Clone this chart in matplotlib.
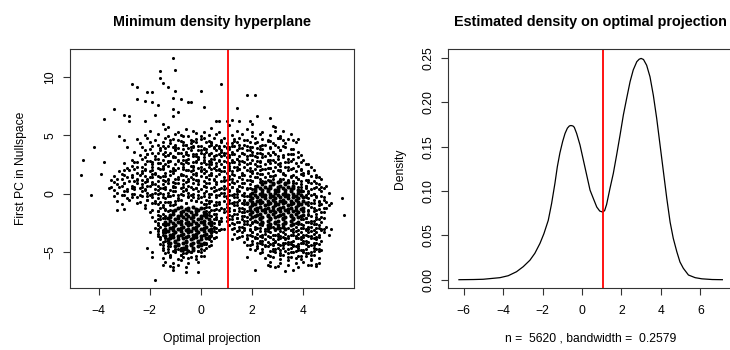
import matplotlib
matplotlib.use("Agg")
import numpy as np
import matplotlib.pyplot as plt

plt.rcParams['font.family'] = ['Liberation Sans', 'DejaVu Sans']

# ---- scatter: points, in tenths of a unit (x, y) ----
outlier_pts = [
    (-11, 116), (-10, 106), (-16, 105), (-16, 99), (-15, 95), (-27, 94), (-25, 91), (-13, 91),
    (-10, 88), (0, 88), (8, 94), (-21, 87), (-19, 87), (-25, 81), (-22, 79), (-19, 78), (-17, 76),
    (-11, 82), (-8, 81), (-5, 78), (-4, 78), (18, 84), (21, 84), (1, 74), (14, 73), (-34, 72),
    (-11, 72), (-9, 70), (-11, 66), (-38, 64), (-30, 67), (-28, 66), (-28, 62), (-22, 62), (-18, 67),
    (-15, 60), (-13, 57), (22, 66), (27, 65), (28, 58), (29, 57), (19, 62), (20, 60), (10, 62),
    (11, 59), (12, 63), (15, 62), (6, 62), (7, 62), (20, 53), (30, 48), (31, 48), (36, 46), (38, 47),
    (32, 54), (-42, 40), (-32, 49), (-30, 46), (-29, 40), (-46, 29), (-47, 16), (-43, -1), (-38, 27),
    (-39, 17), (-33, -14), (56, -18), (55, -4), (51, -8), (51, -30), (50, -35), (47, -20),
    (-18, -74), (-6, -67), (-11, -65), (-11, -63), (-15, -61), (-1, -67), (21, -65), (33, -66),
    (26, -61), (27, -62), (29, -63), (36, -65), (18, -54), (19, -47), (18, -44), (12, -39),
    (14, -38), (-19, -50), (-19, -54), (-21, -46), (-20, -33), (43, -61), (45, -60),
]

upper_cloud_pts = [
    (-20, 54), (-14, 55), (-9, 53), (-6, 55), (-3, 54), (1, 53), (4, 56), (7, 53),
    (-22, 50), (-17, 51), (-13, 49), (-10, 51), (-8, 50), (-5, 49), (-2, 52), (0, 49), (3, 50), (6, 51), (9, 48),
    (-25, 47), (-21, 48), (-18, 46), (-14, 48), (-11, 47), (-9, 46), (-7, 49), (-4, 46), (-2, 47), (1, 48),
    (3, 45), (5, 48), (8, 46),
    (-24, 43), (-20, 44), (-17, 42), (-15, 44), (-12, 43), (-10, 42), (-8, 45), (-6, 42), (-4, 43), (-2, 44),
    (0, 41), (2, 44), (4, 43), (6, 42), (8, 44), (10, 43),
    (-23, 40), (-19, 41), (-16, 39), (-13, 41), (-11, 40), (-9, 39), (-7, 42), (-5, 39), (-3, 40), (-1, 41),
    (1, 38), (3, 41), (5, 40), (7, 39), (9, 41),
    (-26, 36), (-22, 37), (-19, 35), (-16, 37), (-14, 36), (-12, 35), (-10, 38), (-8, 35), (-6, 36), (-4, 37),
    (-2, 34), (0, 37), (2, 36), (4, 35), (6, 37), (8, 36), (10, 35),
    (-24, 33), (-21, 34), (-18, 32), (-15, 34), (-13, 33), (-11, 32), (-9, 35), (-7, 32), (-5, 33), (-3, 34),
    (-1, 31), (1, 34), (3, 33), (5, 32), (7, 34), (9, 33),
    (-27, 29), (-23, 30), (-20, 28), (-17, 30), (-15, 29), (-13, 28), (-11, 31), (-9, 28), (-7, 29), (-5, 30),
    (-3, 27), (-1, 30), (1, 29), (3, 28), (5, 30), (7, 29), (9, 28),
    (-30, 26), (-26, 27), (-22, 25), (-19, 27), (-16, 26), (-14, 25), (-12, 28), (-10, 25), (-8, 26), (-6, 27),
    (-4, 24), (-2, 27), (0, 26), (2, 25), (4, 27), (6, 26), (8, 25), (10, 27),
    (-29, 22), (-25, 23), (-22, 21), (-19, 23), (-17, 22), (-15, 21), (-13, 24), (-11, 21), (-9, 22), (-7, 23),
    (-5, 20), (-3, 23), (-1, 22), (1, 21), (3, 23), (5, 22), (7, 21), (9, 23),
    (-32, 19), (-28, 20), (-25, 18), (-22, 20), (-20, 19), (-18, 18), (-16, 21), (-14, 18), (-12, 19), (-10, 20),
    (-8, 17), (-6, 20), (-4, 19), (-2, 18), (0, 20), (2, 19), (4, 18), (6, 20), (8, 19),
    (-34, 15), (-30, 16), (-27, 14), (-24, 16), (-22, 15), (-20, 14), (-18, 17), (-16, 14), (-14, 15), (-12, 16),
    (-10, 13), (-8, 16), (-6, 15), (-4, 14), (-2, 16), (0, 15), (2, 14), (4, 16), (6, 15), (9, 14),
    (-35, 12), (-31, 13), (-28, 11), (-25, 13), (-23, 12), (-21, 11), (-19, 14), (-17, 11), (-15, 12), (-13, 13),
    (-11, 10), (-9, 13), (-7, 12), (-5, 11), (-3, 13), (-1, 12), (1, 11), (3, 13), (5, 12), (8, 11),
    (-33, 8), (-30, 9), (-27, 7), (-25, 9), (-23, 8), (-21, 7), (-19, 10), (-17, 7), (-15, 8), (-13, 9),
    (-11, 6), (-9, 9), (-7, 8), (-5, 7), (-3, 9), (-1, 8), (1, 7), (3, 9), (6, 8), (9, 7),
    (-36, 5), (-32, 6), (-29, 4), (-26, 6), (-24, 5), (-22, 4), (-20, 7), (-18, 4), (-16, 5), (-14, 6),
    (-12, 3), (-10, 6), (-8, 5), (-6, 4), (-4, 6), (-2, 5), (0, 4), (2, 6), (4, 5), (7, 4),
    (-33, 1), (-29, 2), (-26, 0), (-23, 2), (-21, 1), (-19, 0), (-17, 3), (-15, 0), (-13, 1), (-11, 2),
    (-9, -1), (-7, 2), (-5, 1), (-3, 0), (-1, 2), (1, 1), (3, 0), (5, 2), (8, 1),
    (-34, -2), (-30, -1), (-27, -3), (-24, -1), (-21, -2), (-19, -3), (-17, 0), (-15, -3), (-13, -2), (-11, -1),
    (-9, -4), (-7, -1), (-5, -2), (-3, -3), (-1, -1), (1, -2), (3, -3), (6, -1), (9, -2),
    (-33, -6), (-28, -5), (-24, -7), (-21, -5), (-18, -6), (-16, -7), (-14, -4), (-12, -7), (-10, -6), (-8, -5),
    (-6, -8), (-4, -5), (-2, -6), (0, -7), (2, -5), (4, -6), (7, -7),
]

# second, offset layer where the cloud is thicker
mid_cloud_pts = [
    (-12, 46), (-7, 44), (-3, 45), (0, 47), (4, 44), (8, 45),
    (-15, 41), (-10, 40), (-6, 42), (-3, 41), (1, 39), (4, 42), (7, 41), (10, 40),
    (-20, 38), (-14, 39), (-10, 37), (-7, 38), (-4, 40), (-1, 37), (2, 38), (5, 39), (8, 37), (10, 39),
    (-21, 34), (-17, 35), (-13, 33), (-9, 35), (-6, 34), (-3, 32), (0, 35), (3, 34), (6, 33), (9, 35),
    (-22, 31), (-18, 30), (-14, 32), (-10, 31), (-6, 29), (-2, 32), (1, 31), (4, 30), (8, 32), (10, 31),
    (-25, 27), (-21, 28), (-17, 26), (-13, 27), (-9, 29), (-5, 26), (-2, 28), (1, 27), (4, 25), (7, 28), (10, 27),
    (-27, 24), (-23, 23), (-19, 25), (-15, 24), (-11, 22), (-7, 25), (-3, 24), (0, 23), (3, 25), (6, 24), (9, 23),
    (-30, 20), (-26, 21), (-23, 19), (-19, 20), (-15, 22), (-11, 19), (-7, 21), (-3, 20), (1, 18), (4, 21),
    (7, 20), (9, 19),
    (-31, 17), (-27, 16), (-23, 18), (-19, 17), (-15, 15), (-11, 18), (-7, 16), (-3, 17), (0, 19), (3, 16),
    (7, 17), (10, 18),
    (-33, 13), (-29, 14), (-25, 12), (-21, 13), (-17, 15), (-13, 12), (-9, 14), (-5, 13), (-1, 11), (2, 14),
    (5, 13), (9, 12),
    (-34, 10), (-30, 9), (-26, 11), (-22, 10), (-18, 8), (-14, 11), (-10, 9), (-6, 10), (-2, 12), (2, 9),
    (6, 10), (9, 11),
    (-35, 6), (-31, 7), (-27, 5), (-23, 6), (-19, 8), (-15, 5), (-11, 7), (-7, 6), (-3, 4), (1, 7), (5, 6), (8, 5),
    (-34, 3), (-30, 2), (-26, 4), (-22, 3), (-18, 1), (-14, 4), (-10, 2), (-6, 3), (-2, 5), (2, 2), (6, 3), (9, 4),
    (-31, -1), (-27, 0), (-23, -2), (-20, -1), (-16, 1), (-12, -2), (-8, 0), (-4, -1), (0, -3), (4, 0), (7, -1),
    (-29, -4), (-25, -3), (-21, -5), (-17, -4), (-13, -2), (-9, -5), (-5, -3), (-1, -4), (3, -6), (6, -3),
    (-18, -8), (-14, -7), (-10, -9), (-6, -8), (-2, -6), (2, -9), (6, -7),
]

left_halo_pts = [
    (-31, -9), (-25, -8), (-22, -10), (-19, -8), (-17, -9), (-15, -10), (-13, -7), (-11, -10), (1, -9), (3, -8),
    (5, -10), (7, -9),
    (-30, -13), (-22, -12), (-19, -14), (-16, -12), (-14, -13), (-12, -14), (2, -11), (4, -14), (6, -13), (8, -12),
    (-20, -16), (-17, -15), (-15, -17), (-13, -15), (3, -16), (5, -17), (7, -14),
    (-19, -20), (-16, -19), (-14, -21), (4, -19), (6, -20), (8, -21),
    (-18, -23), (-16, -22), (4, -24), (6, -22), (8, -23),
    (-17, -27), (-15, -26), (5, -28), (7, -26),
    (-17, -30), (-15, -31), (5, -29), (7, -31), (9, -30),
    (-17, -34), (-15, -33), (4, -35), (6, -33),
    (-16, -37), (-14, -38), (3, -36), (5, -38),
    (-15, -41), (-13, -40), (2, -42), (4, -40),
    (-15, -44), (-13, -45), (1, -43), (3, -45),
    (-15, -48), (-13, -47), (-11, -49), (-9, -47), (-7, -48), (-5, -49), (-3, -46), (-1, -49), (1, -48),
    (-14, -51), (-12, -52), (-10, -50), (-8, -52), (-6, -51), (-4, -50), (-2, -53), (0, -50),
    (-15, -55), (-12, -54), (-9, -56), (-7, -54), (-5, -55), (-2, -56), (1, -53),
    (-14, -58), (-11, -59), (-8, -57), (-5, -59), (-1, -58),
    (-12, -62), (-9, -61), (-6, -63),
]

mid_left_pts = [
    (-15, -11), (-12, -10), (1, -12), (3, -11), (6, -10),
    (-17, -15), (-14, -14), (2, -15), (5, -14),
    (-17, -18), (-14, -19), (3, -18), (6, -17),
    (-17, -22), (-15, -21), (5, -22), (7, -23),
    (-17, -25), (-15, -26), (5, -25), (7, -24),
    (-18, -29), (-16, -28), (6, -29), (8, -30),
    (-17, -32), (-15, -33), (5, -32), (7, -31),
    (-17, -36), (-15, -35), (4, -36), (6, -37),
    (-16, -39), (-14, -40), (3, -39), (5, -38),
    (-16, -43), (-13, -42), (2, -43), (4, -44),
    (-15, -46), (-12, -45), (-10, -47), (-8, -46), (0, -47), (2, -46),
    (-13, -50), (-10, -49), (-7, -51), (-4, -50), (-1, -49),
    (-12, -53), (-8, -52), (-4, -54), (0, -53),
]

right_halo_pts = [
    (14, 54), (18, 55), (24, 53), (29, 54),
    (12, 50), (16, 51), (20, 49), (23, 51), (27, 50), (31, 49), (35, 51),
    (13, 47), (15, 48), (18, 46), (21, 48), (24, 47), (26, 46), (30, 48), (34, 47),
    (12, 43), (14, 44), (17, 42), (19, 44), (21, 43), (24, 42), (26, 45), (29, 42), (33, 43), (37, 44),
    (11, 40), (13, 41), (16, 39), (18, 41), (20, 40), (22, 39), (25, 42), (27, 39), (30, 40), (32, 41), (36, 38),
    (12, 36), (14, 37), (16, 35), (18, 37), (20, 36), (22, 35), (24, 38), (26, 35), (28, 36), (31, 37), (34, 34),
    (38, 36),
    (11, 33), (13, 34), (15, 32), (17, 34), (19, 33), (21, 32), (23, 35), (25, 32), (27, 33), (29, 34), (32, 31),
    (35, 34), (39, 33),
    (12, 29), (14, 30), (16, 28), (18, 30), (20, 29), (22, 28), (24, 31), (26, 28), (28, 29), (30, 30), (33, 27),
    (36, 30), (40, 29),
    (11, 26), (13, 27), (15, 25), (17, 27), (19, 26), (21, 25), (23, 28), (25, 25), (27, 26), (29, 27), (31, 24),
    (34, 27), (37, 26), (41, 25),
    (11, 22), (13, 23), (15, 21), (17, 23), (19, 22), (21, 21), (23, 24), (25, 21), (27, 22), (29, 23), (31, 20),
    (33, 23), (36, 22), (39, 21), (43, 23),
    (12, 19), (14, 20), (16, 18), (18, 20), (20, 19), (22, 18), (24, 21), (26, 18), (28, 19), (30, 20), (32, 17),
    (34, 20), (37, 19), (40, 18), (44, 20),
    (11, 15), (13, 16), (15, 14), (17, 16), (19, 15), (21, 14), (23, 17), (25, 14), (27, 15), (29, 16), (31, 13),
    (33, 16), (35, 15), (37, 14), (40, 16), (43, 15), (46, 14),
    (10, 12), (12, 13), (14, 11), (16, 13), (18, 12), (20, 11), (22, 14), (24, 11), (26, 12), (28, 13), (30, 10),
    (32, 13), (34, 12), (36, 11), (38, 13), (41, 12), (44, 11), (47, 13),
    (11, 8), (13, 9), (15, 7), (17, 9), (19, 8), (21, 7), (37, 9), (39, 8), (41, 7), (43, 9), (46, 8), (49, 7),
    (10, 5), (12, 6), (14, 4), (16, 6), (18, 5), (20, 4), (39, 6), (41, 5), (43, 4), (45, 6), (48, 5),
    (9, 1), (11, 2), (13, 0), (15, 2), (17, 1), (19, 0), (40, 2), (42, 1), (44, 0), (47, 2), (50, 1),
    (10, -2), (12, -1), (14, -3), (16, -1), (18, -2), (41, -3), (43, -1), (45, -2), (48, -3),
    (9, -6), (11, -5), (13, -7), (15, -5), (17, -6), (42, -7), (44, -5), (46, -6), (49, -7),
    (10, -9), (12, -8), (14, -10), (16, -8), (18, -9), (42, -10), (44, -8), (47, -9), (50, -10),
    (9, -13), (11, -12), (13, -14), (15, -12), (17, -13), (42, -14), (44, -12), (46, -13), (49, -12),
    (9, -16), (11, -15), (13, -17), (15, -15), (17, -16), (42, -17), (44, -15), (47, -16),
    (10, -20), (12, -19), (14, -21), (16, -19), (18, -20), (41, -21), (43, -19), (45, -20), (48, -21),
    (10, -23), (12, -22), (14, -24), (16, -22), (18, -23), (20, -24), (40, -22), (42, -24), (44, -23), (46, -22),
    (11, -27), (13, -26), (15, -28), (17, -26), (19, -27), (21, -28), (38, -26), (40, -27), (42, -28), (44, -26),
    (46, -27), (49, -28),
    (12, -30), (15, -31), (17, -29), (19, -31), (21, -30), (23, -29), (25, -32), (34, -29), (36, -30), (38, -31),
    (40, -29), (42, -30), (44, -31), (46, -29), (48, -30),
    (13, -34), (16, -33), (18, -35), (20, -33), (22, -34), (24, -35), (26, -32), (28, -35), (30, -34), (32, -33),
    (34, -36), (36, -33), (38, -34), (40, -35), (42, -33), (44, -34), (46, -35), (48, -33),
    (15, -37), (18, -38), (20, -36), (22, -38), (24, -37), (26, -36), (28, -39), (30, -36), (32, -37), (34, -38),
    (36, -35), (38, -38), (40, -37), (42, -36), (44, -38), (46, -37),
    (17, -41), (20, -40), (22, -42), (24, -40), (26, -41), (28, -42), (30, -39), (32, -42), (34, -41), (36, -40),
    (38, -43), (40, -40), (42, -41), (44, -42), (47, -40),
    (19, -44), (22, -45), (24, -43), (26, -45), (28, -44), (30, -43), (32, -46), (34, -43), (36, -44), (38, -45),
    (40, -42), (42, -45), (44, -44), (46, -43),
    (21, -48), (24, -47), (27, -49), (29, -47), (31, -48), (33, -49), (35, -46), (37, -49), (39, -48), (41, -47),
    (43, -50), (45, -47), (47, -48),
    (23, -51), (26, -52), (29, -50), (32, -52), (34, -51), (36, -50), (38, -53), (40, -50), (42, -51), (44, -52),
    (46, -49),
    (25, -55), (28, -54), (31, -56), (34, -54), (37, -55), (39, -56), (41, -53), (43, -56), (46, -55),
    (27, -58), (31, -59), (34, -57), (37, -59), (40, -58), (43, -57), (46, -59),
    (30, -62), (34, -61), (38, -63), (42, -61), (45, -62),
]

mid_right_pts = [
    (13, 45), (17, 46), (22, 44), (27, 45), (32, 46),
    (12, 41), (15, 42), (19, 40), (23, 41), (28, 43), (33, 40),
    (11, 38), (15, 39), (19, 37), (23, 38), (27, 40), (31, 37), (35, 38),
    (12, 34), (16, 35), (20, 33), (24, 34), (28, 36), (32, 33), (36, 34),
    (11, 31), (14, 30), (18, 32), (22, 31), (26, 29), (30, 32), (34, 30), (38, 31),
    (12, 27), (15, 28), (19, 26), (23, 27), (27, 29), (31, 26), (35, 28), (39, 27),
    (11, 24), (14, 23), (18, 25), (22, 24), (26, 22), (30, 25), (34, 23), (38, 24), (42, 25),
    (11, 20), (15, 21), (19, 19), (23, 20), (27, 22), (31, 19), (35, 21), (39, 20), (42, 19),
    (12, 17), (16, 16), (20, 18), (24, 17), (28, 15), (32, 18), (36, 16), (39, 17), (42, 18), (45, 16),
    (11, 13), (15, 14), (19, 12), (23, 13), (27, 15), (31, 12), (35, 14), (38, 13), (42, 12), (45, 14),
    (12, 10), (16, 9), (20, 11), (23, 10), (36, 9), (39, 11), (42, 10), (45, 9),
    (12, 6), (15, 7), (19, 5), (38, 6), (41, 7), (44, 5), (47, 6),
    (11, 3), (14, 2), (18, 4), (39, 3), (42, 2), (46, 4),
    (11, -1), (14, 0), (17, -2), (41, -1), (44, 0), (47, -2),
    (10, -4), (13, -3), (17, -5), (42, -4), (45, -3), (48, -5),
    (11, -8), (14, -7), (17, -9), (43, -8), (46, -7),
    (10, -11), (13, -10), (16, -12), (43, -11), (46, -10), (48, -12),
    (10, -15), (13, -14), (16, -16), (18, -15), (42, -15), (45, -14), (48, -16),
    (11, -18), (14, -17), (17, -19), (42, -18), (45, -17),
    (11, -22), (14, -21), (17, -23), (19, -22), (39, -22), (41, -21), (43, -23), (45, -22),
    (12, -25), (15, -24), (18, -26), (20, -25), (22, -24), (37, -25), (39, -26), (41, -24), (43, -25), (45, -26),
    (47, -24),
    (13, -29), (16, -28), (19, -30), (22, -29), (24, -27), (26, -30), (28, -28), (31, -29), (35, -31), (37, -28),
    (39, -29), (41, -30), (43, -28), (45, -29), (47, -30),
    (14, -32), (17, -31), (20, -33), (23, -32), (25, -30), (27, -33), (29, -31), (31, -32), (33, -34), (35, -31),
    (37, -32), (39, -33), (41, -31), (43, -32), (45, -33), (47, -31),
    (16, -36), (19, -35), (21, -37), (23, -36), (25, -34), (27, -37), (29, -35), (31, -36), (33, -38), (35, -35),
    (37, -36), (39, -37), (41, -35), (43, -36), (45, -37),
    (18, -39), (21, -38), (23, -40), (25, -39), (27, -37), (29, -40), (31, -38), (33, -39), (35, -41), (37, -38),
    (39, -39), (41, -40), (43, -38), (45, -39),
    (20, -43), (23, -42), (25, -44), (27, -43), (29, -41), (31, -44), (33, -42), (35, -43), (37, -45), (39, -42),
    (41, -43), (43, -44), (45, -42),
    (22, -46), (25, -45), (28, -47), (30, -46), (32, -44), (34, -47), (36, -45), (38, -46), (40, -48), (42, -45),
    (44, -46), (46, -47),
    (24, -50), (28, -49), (31, -51), (35, -50), (38, -48), (41, -51), (44, -49),
    (27, -53), (31, -52), (35, -54), (39, -53), (43, -52),
]

right_core_pts = [
    (25, 10), (27, 11), (28, 9), (30, 10), (31, 11), (33, 9), (34, 10),
    (22, 7), (24, 8), (25, 6), (27, 7), (28, 8), (30, 6), (31, 7), (33, 8), (34, 6), (36, 7),
    (21, 4), (23, 5), (24, 3), (26, 4), (27, 5), (29, 3), (30, 4), (32, 5), (33, 3), (35, 4), (36, 5), (38, 3),
    (20, 1), (21, 2), (23, 0), (24, 1), (26, 2), (27, 0), (29, 1), (30, 2), (32, 0), (33, 1), (35, 2), (36, 0),
    (38, 1), (39, 2),
    (19, -2), (21, -1), (22, -3), (24, -2), (25, -1), (27, -3), (28, -2), (30, -1), (31, -3), (33, -2), (34, -1),
    (36, -3), (37, -2), (39, -1), (40, -3),
    (19, -5), (20, -4), (22, -6), (23, -5), (25, -4), (26, -6), (28, -5), (29, -4), (31, -6), (32, -5), (34, -4),
    (35, -6), (37, -5), (38, -4), (40, -6),
    (18, -8), (20, -7), (21, -9), (23, -8), (24, -7), (26, -9), (27, -8), (29, -7), (30, -9), (32, -8), (33, -7),
    (35, -9), (36, -8), (38, -7), (39, -9), (41, -8),
    (19, -11), (20, -10), (22, -12), (23, -11), (25, -10), (26, -12), (28, -11), (29, -10), (31, -12), (32, -11),
    (34, -10), (35, -12), (37, -11), (38, -10), (40, -12),
    (19, -14), (21, -13), (22, -15), (24, -14), (25, -13), (27, -15), (28, -14), (30, -13), (31, -15), (33, -14),
    (34, -13), (36, -15), (37, -14), (39, -13), (40, -15),
    (19, -17), (20, -16), (22, -18), (23, -17), (25, -16), (26, -18), (28, -17), (29, -16), (31, -18), (32, -17),
    (34, -16), (35, -18), (37, -17), (38, -16), (40, -18),
    (20, -20), (21, -19), (23, -21), (24, -20), (26, -19), (27, -21), (29, -20), (30, -19), (32, -21), (33, -20),
    (35, -19), (36, -21), (38, -20), (39, -19),
    (21, -23), (23, -22), (24, -24), (26, -23), (27, -22), (29, -24), (30, -23), (32, -22), (33, -24), (35, -23),
    (36, -22), (38, -24),
    (23, -26), (24, -25), (26, -27), (27, -26), (29, -25), (30, -27), (32, -26), (33, -25), (35, -27), (36, -26),
    (26, -29), (27, -28), (29, -30), (30, -29), (32, -28), (33, -30),
]

left_core_pts = [
    (-9, -12), (-8, -11), (-6, -13), (-5, -12), (-3, -11), (-2, -13), (0, -12),
    (-11, -15), (-10, -14), (-8, -16), (-7, -15), (-5, -14), (-4, -16), (-2, -15), (-1, -14), (1, -16),
    (-12, -18), (-11, -17), (-9, -19), (-8, -18), (-6, -17), (-5, -19), (-3, -18), (-2, -17), (0, -19), (1, -18),
    (2, -17),
    (-13, -21), (-12, -20), (-10, -22), (-9, -21), (-7, -20), (-6, -22), (-4, -21), (-3, -20), (-1, -22), (0, -21),
    (2, -20), (3, -22),
    (-14, -24), (-12, -23), (-11, -25), (-9, -24), (-8, -23), (-6, -25), (-5, -24), (-3, -23), (-2, -25), (0, -24),
    (1, -23), (3, -25), (4, -24),
    (-14, -27), (-13, -26), (-11, -28), (-10, -27), (-8, -26), (-7, -28), (-5, -27), (-4, -26), (-2, -28), (-1, -27),
    (1, -26), (2, -28), (4, -27),
    (-14, -30), (-12, -29), (-11, -31), (-9, -30), (-8, -29), (-6, -31), (-5, -30), (-3, -29), (-2, -31), (0, -30),
    (1, -29), (3, -31), (4, -30),
    (-14, -33), (-13, -32), (-11, -34), (-10, -33), (-8, -32), (-7, -34), (-5, -33), (-4, -32), (-2, -34), (-1, -33),
    (1, -32), (2, -34), (4, -33),
    (-14, -36), (-12, -35), (-11, -37), (-9, -36), (-8, -35), (-6, -37), (-5, -36), (-3, -35), (-2, -37), (0, -36),
    (1, -35), (3, -37),
    (-13, -39), (-12, -38), (-10, -40), (-9, -39), (-7, -38), (-6, -40), (-4, -39), (-3, -38), (-1, -40), (0, -39),
    (2, -38),
    (-12, -42), (-10, -41), (-9, -43), (-7, -42), (-6, -41), (-4, -43), (-3, -42), (-1, -41), (0, -43), (1, -42),
    (-10, -45), (-9, -44), (-7, -46), (-6, -45), (-4, -44), (-3, -46), (-1, -45), (0, -44),
    (-8, -48), (-6, -47), (-5, -49), (-3, -48),
]

# hyperplane position on the optimal projection
split_value = 1.05

# ---- estimated density curve ----
dens_x = [-6.24, -5.5, -5.01, -4.16, -3.74, -3.32, -2.98, -2.64, -2.39, -2.13, -1.93, -1.71, -1.54, -1.37,
          -1.25, -1.12, -0.98, -0.86, -0.74, -0.64, -0.56, -0.46, -0.39, -0.27, -0.10, 0.07, 0.24, 0.41,
          0.57, 0.75, 0.90, 1.05, 1.15, 1.25, 1.42, 1.59, 1.76, 1.93, 2.10, 2.27, 2.44, 2.60, 2.78, 2.90,
          3.00, 3.12, 3.28, 3.45, 3.62, 3.79, 3.96, 4.13, 4.30, 4.47, 4.63, 4.81, 4.97, 5.14, 5.40, 5.74,
          6.08, 6.60, 7.12]
dens_y = [0.0, 0.0002, 0.0005, 0.0023, 0.0045, 0.009, 0.0147, 0.022, 0.0298, 0.041, 0.052, 0.067, 0.086, 0.109,
          0.1275, 0.143, 0.156, 0.165, 0.171, 0.1735, 0.174, 0.1735, 0.172, 0.165, 0.152, 0.135, 0.118, 0.101,
          0.092, 0.082, 0.0775, 0.0763, 0.078, 0.085, 0.103, 0.120, 0.141, 0.163, 0.186, 0.205, 0.2235, 0.2367,
          0.246, 0.2488, 0.2497, 0.2485, 0.242, 0.229, 0.208, 0.182, 0.152, 0.122, 0.092, 0.065, 0.0467, 0.0316,
          0.020, 0.0129, 0.0053, 0.0023, 0.001, 0.0002, 0.0]


def unpack(pts):
    arr = np.array(pts, dtype=float) / 10.0
    return arr[:, 0], arr[:, 1]


def r_style(ax):
    for s in ax.spines.values():
        s.set_color('#333333')
        s.set_linewidth(0.8)
    ax.tick_params(direction='out', length=5, width=0.8, color='#333333', labelsize=8.7)
    ax.tick_params(axis='x', pad=7)
    ax.tick_params(axis='y', pad=5)


fig = plt.figure(figsize=(7.3, 3.5), dpi=100)

# left panel: scatter
ax1 = fig.add_axes([70 / 730, 1 - 288.3 / 350, 284 / 730, 239 / 350])
for pts in [outlier_pts, upper_cloud_pts, mid_cloud_pts, left_halo_pts, mid_left_pts,
            right_halo_pts, mid_right_pts]:
    x, y = unpack(pts)
    ax1.scatter(x, y, s=5.0, c='black', linewidths=0)
for pts in [right_core_pts, left_core_pts]:
    x, y = unpack(pts)
    ax1.scatter(x, y, s=8.5, c='black', linewidths=0)
ax1.axvline(split_value, color='#ff0000', lw=1.3)
ax1.set_xlim(-5.12, 5.98)
ax1.set_ylim(-8.08, 12.34)
ax1.set_xticks([-4, -2, 0, 2, 4])
ax1.set_yticks([-5, 0, 5, 10])
ax1.set_yticklabels(['−5', '0', '5', '10'], rotation=90, va='center')
r_style(ax1)
ax1.set_title('Minimum density hyperplane', fontsize=10.4, fontweight='bold', pad=17)
ax1.set_xlabel('Optimal projection', fontsize=8.7, labelpad=11.5)
ax1.set_ylabel('First PC in Nullspace', fontsize=8.7, labelpad=12)

# right panel: density
ax2 = fig.add_axes([448.3 / 730, 1 - 288.3 / 350, 284.7 / 730, 239 / 350])
ax2.plot(dens_x, dens_y, color='black', lw=0.9)
ax2.axvline(split_value, color='#ff0000', lw=1.3)
ax2.set_xlim(-6.78, 7.66)
ax2.set_ylim(-0.0097, 0.26)
ax2.set_xticks([-6, -4, -2, 0, 2, 4, 6])
ax2.set_yticks([0, 0.05, 0.10, 0.15, 0.20, 0.25])
ax2.set_yticklabels(['0.00', '0.05', '0.10', '0.15', '0.20', '0.25'], rotation=90, va='center')
r_style(ax2)
ax2.set_title('Estimated density on optimal projection', fontsize=10.4, fontweight='bold', pad=17)
ax2.set_xlabel('n =  5620 , bandwidth =  0.2579', fontsize=8.7, labelpad=11.5)
ax2.set_ylabel('Density', fontsize=8.7, labelpad=12)

fig.savefig('out.png', dpi=100)
